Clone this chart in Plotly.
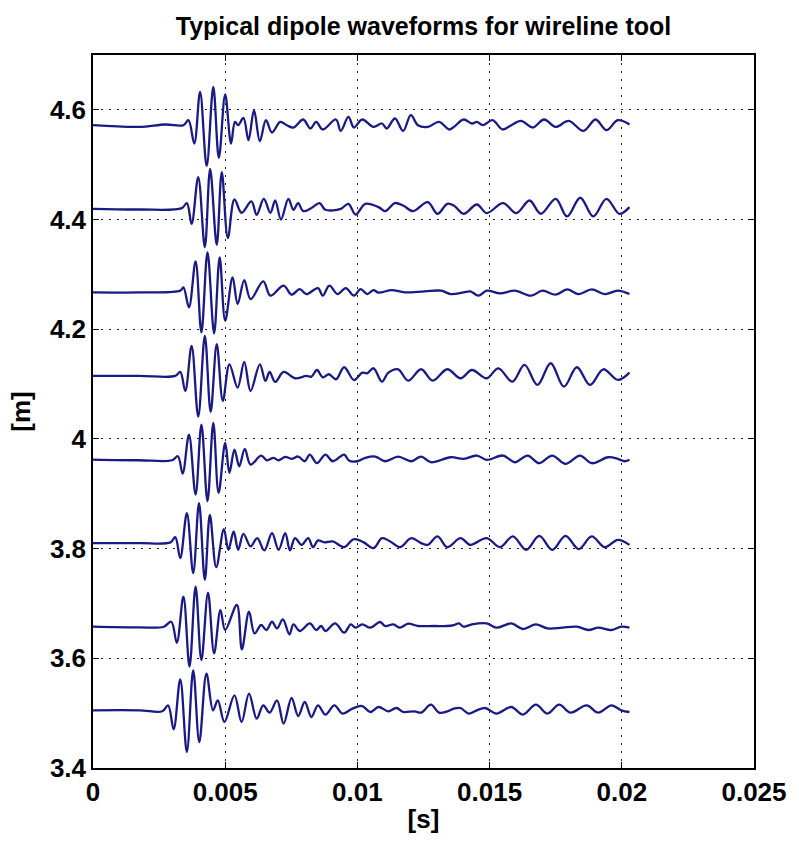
import plotly.graph_objects as go

# ---- data (time in ms, amplitude deviation in mm) ----
offsets_m = [4.572, 4.4196, 4.2672, 4.1148, 3.9624, 3.81, 3.6576, 3.5052]

t1 = [0, 1.75, 2.74, 3.42, 3.61, 3.83, 4.05, 4.30, 4.55, 4.76, 5.00, 5.22, 5.37, 5.49, 5.69, 5.88, 6.09, 6.31, 6.54, 6.77, 7.08, 7.33, 7.58, 7.95, 8.22, 8.44, 8.69, 9.19, 9.37, 9.66, 9.87, 10.18, 10.61, 10.93, 11.11, 11.42, 11.73, 12.02, 12.29, 12.66, 13.09, 13.47, 13.65, 14.02, 14.33, 14.52, 14.74, 15.11, 15.49, 15.82, 16.19, 16.63, 17.06, 17.50, 17.99, 18.55, 19.01, 19.42, 19.85, 20.29]
a1 = [0, -3.1, 1.3, 0, 9.1, -33.4, 60.7, -74.2, 69.8, -59.6, 56.0, -33.4, 6.0, 0, 13.3, -27.3, 27.3, -29.2, 9.1, -13.3, 6.0, 0, -4.2, 10.4, -6.0, 6.0, -7.8, 10.4, -10.4, 15.1, -4.2, 10.4, -3.1, 3.1, -6.0, 12.2, -10.4, 18.2, 0, -3.1, 6.0, -7.8, -3.1, 10.4, 3.1, 6.0, 0, 9.1, -7.8, 0, 7.8, -4.2, 10.4, -3.1, 7.8, -10.4, 10.4, -9.1, 9.1, 1.3]

t2 = [0, 1.75, 3.36, 3.55, 3.73, 3.98, 4.23, 4.43, 4.68, 4.87, 5.10, 5.35, 5.62, 5.99, 6.19, 6.46, 6.71, 6.89, 7.11, 7.39, 7.58, 7.76, 7.95, 8.26, 8.57, 8.79, 9.37, 9.66, 9.93, 10.30, 10.80, 11.05, 11.42, 11.73, 12.10, 12.66, 13.03, 13.40, 13.65, 14.02, 14.52, 14.89, 15.51, 16.01, 16.51, 16.94, 17.50, 17.93, 18.43, 18.92, 19.42, 19.91, 20.29]
a2 = [0, -1.3, 1.3, 10.4, -27.3, 57.8, -69.8, 72.9, -65.6, 66.9, -53.4, 17.0, -7.3, 13.3, -10.9, 18.2, -7.3, 15.1, -19.5, 18.2, -1.8, 10.4, -4.2, 1.3, 10.4, -1.8, 0, 9.1, -10.4, 9.1, 3.1, -4.2, 10.4, 6.0, -4.2, 12.2, -9.1, 9.1, 6.0, -9.1, 7.8, -7.8, 10.4, -7.8, 15.1, -9.1, 18.2, -14.0, 20.1, -14.0, 18.2, -9.1, 3.1]

t3 = [0, 1.75, 3.30, 3.42, 3.63, 3.88, 4.10, 4.33, 4.58, 4.79, 5.00, 5.28, 5.47, 5.72, 5.96, 6.44, 6.71, 7.21, 7.51, 7.82, 8.07, 8.51, 8.69, 8.94, 9.25, 9.56, 9.87, 10.12, 10.37, 10.61, 10.80, 11.30, 11.79, 12.54, 13.16, 13.53, 14.02, 14.27, 14.58, 14.89, 15.39, 15.95, 16.57, 17.00, 17.50, 17.93, 18.37, 18.86, 19.36, 19.85, 20.29]
a3 = [0, 0, 3.1, 9.1, -27.3, 56.5, -72.9, 72.9, -74.7, 63.8, -51.6, 27.3, -21.3, 22.4, -12.2, 20.1, -6.0, 12.2, -4.2, 6.0, -3.1, 7.8, -6.0, 12.2, -3.1, 7.8, -6.0, 6.0, -3.1, 4.2, -0.5, 4.2, 0, 1.8, 3.1, -3.1, 0, 1.8, -6.0, 3.1, -1.8, 3.1, -6.0, 3.1, -4.2, 5.5, -3.1, 5.5, -3.1, 3.1, -3.1]

t4 = [0, 1.75, 3.11, 3.30, 3.49, 3.73, 3.98, 4.23, 4.45, 4.68, 4.91, 5.16, 5.47, 5.72, 5.96, 6.31, 6.52, 6.68, 6.89, 7.21, 7.64, 8.07, 8.26, 8.47, 8.69, 8.92, 9.19, 9.50, 9.87, 10.18, 10.37, 10.61, 10.93, 11.17, 11.54, 11.92, 12.41, 12.85, 13.40, 13.90, 14.33, 14.89, 15.33, 15.86, 16.32, 16.81, 17.31, 17.81, 18.30, 18.80, 19.30, 19.85, 20.29]
a4 = [0, 0, 0, 7.3, -27.3, 54.7, -74.2, 72.9, -65.6, 57.8, -45.6, 21.3, -21.3, 25.5, -27.3, 21.3, -9.1, 7.3, -10.9, 7.3, -4.2, 0, -1.3, 10.9, -2.4, 3.1, -6.0, 15.9, -7.3, 6.0, 4.9, 14.0, -10.4, 6.0, 12.2, -8.6, 12.2, -8.6, 12.2, -4.2, 10.9, -4.2, 14.0, -10.4, 20.1, -16.4, 23.2, -19.5, 15.9, -16.4, 12.2, -7.3, 6.0]

t5 = [0, 1.75, 2.99, 3.21, 3.39, 3.63, 3.88, 4.10, 4.33, 4.55, 4.75, 5.00, 5.16, 5.35, 5.53, 5.74, 5.96, 6.36, 6.58, 6.83, 7.02, 7.27, 7.51, 7.76, 8.01, 8.20, 8.47, 8.79, 9.07, 9.50, 9.68, 10.00, 10.30, 10.68, 11.05, 11.54, 12.04, 12.41, 12.78, 13.53, 14.02, 14.52, 14.89, 15.51, 15.95, 16.44, 16.87, 17.37, 17.87, 18.42, 18.86, 19.48, 19.85, 20.10, 20.29]
a5 = [0, -1.3, -1.3, 6.0, -25.5, 45.6, -63.8, 63.8, -76.0, 66.9, -60.7, 30.4, -24.2, 18.2, -12.2, 19.5, -9.1, 7.3, -1.3, 3.1, -1.3, 4.9, 1.3, 5.5, -3.1, 9.1, -6.7, 9.1, -3.1, 9.1, -1.8, -3.1, 3.1, 5.5, -3.1, 5.5, -3.1, 5.5, -4.9, 4.2, 1.3, 7.3, -0.5, 7.3, -4.9, 7.3, -6.7, 7.3, -7.8, 7.3, -6.7, 4.2, 1.3, -3.1, -0.5]

t6 = [0, 1.75, 2.93, 3.11, 3.30, 3.55, 3.79, 4.01, 4.23, 4.42, 4.66, 4.95, 5.12, 5.32, 5.49, 5.69, 5.96, 6.21, 6.48, 6.77, 7.02, 7.27, 7.45, 7.64, 7.89, 8.14, 8.32, 8.51, 8.75, 9.07, 9.50, 9.87, 10.24, 10.61, 10.93, 11.24, 11.61, 12.04, 12.41, 12.66, 13.03, 13.40, 13.90, 14.27, 14.89, 15.39, 15.88, 16.38, 16.88, 17.37, 17.87, 18.37, 18.86, 19.36, 19.85, 20.29]
a6 = [0, 0, 1.3, 10.9, -27.3, 54.7, -54.7, 72.9, -66.9, 51.6, -43.8, 25.5, -12.2, 21.3, -12.2, 17.0, -6.0, 9.1, -13.3, 18.2, -12.2, 18.2, -13.3, 9.1, -3.1, 9.1, -7.3, 4.9, 1.3, 3.1, -7.3, 7.3, 1.3, -9.1, 9.1, 3.1, -7.3, 9.1, 0, -3.1, 12.2, -7.3, 9.1, -3.1, 9.1, -7.3, 12.2, -12.2, 13.3, -12.2, 13.3, -10.9, 12.2, -7.3, 6.0, -3.1]

t7 = [0, 1.75, 2.68, 2.96, 3.17, 3.42, 3.65, 3.88, 4.10, 4.35, 4.58, 4.82, 5.00, 5.44, 5.63, 5.90, 6.11, 6.36, 6.56, 6.77, 6.96, 7.18, 7.43, 7.58, 7.82, 8.20, 8.44, 8.63, 8.79, 9.16, 9.50, 9.75, 9.93, 10.18, 10.49, 10.86, 11.05, 11.36, 11.61, 11.92, 12.29, 12.91, 13.40, 13.65, 13.84, 14.02, 14.33, 14.89, 15.26, 15.82, 16.26, 16.75, 17.19, 17.75, 18.30, 18.74, 19.11, 19.61, 19.98, 20.29]
a7 = [0, -1.3, 0, 9.1, -29.2, 54.7, -72.9, 72.9, -60.7, 62.0, -48.7, 30.4, -6.0, 39.6, -41.4, 27.3, -12.2, 3.1, -6.0, 9.1, -3.1, 13.3, -14.0, 4.2, -7.8, 6.0, -6.0, 1.3, -7.8, 6.0, -10.9, 4.2, -1.8, 4.2, -1.8, 8.6, 1.3, 4.2, -1.8, 5.5, 1.3, 1.3, 1.3, 3.1, 6.0, 0, 4.2, 6.0, -1.8, 6.0, -4.2, 4.2, -3.1, -1.8, 0, -6.0, -1.8, -6.0, 0, -1.8]

t8 = [0, 1.75, 2.62, 2.84, 3.05, 3.30, 3.55, 3.79, 4.02, 4.29, 4.54, 4.72, 4.97, 5.35, 5.62, 5.90, 6.19, 6.44, 6.68, 6.96, 7.21, 7.51, 7.76, 8.01, 8.26, 8.51, 8.79, 9.13, 9.44, 9.81, 10.18, 10.49, 10.80, 11.17, 11.48, 11.73, 12.16, 12.41, 12.78, 13.09, 13.40, 13.65, 13.90, 14.21, 14.52, 14.83, 15.26, 15.82, 16.26, 16.75, 17.19, 17.63, 18.06, 18.67, 19.11, 19.61, 19.98, 20.29]
a8 = [0, 0, -1.8, 9.1, -34.6, 56.5, -76.0, 72.9, -57.8, 66.9, 0, 18.2, -21.3, 27.3, -21.3, 30.4, -15.1, 9.1, -4.2, 18.2, -24.2, 22.4, -10.4, 15.1, -12.2, 9.1, -7.8, 9.1, -6.0, 3.1, 7.8, -3.1, 6.0, -1.8, 4.2, -3.1, -1.8, -4.2, 10.4, -4.2, -1.8, 3.1, 4.2, -6.0, 0, 4.2, -6.0, 6.0, -7.8, 10.4, -6.0, 10.4, -4.2, 9.1, -4.2, 9.1, 0, -3.1]

x_tickvals = [0, 0.005, 0.01, 0.015, 0.02, 0.025]
x_ticktext = ["0", "0.005", "0.01", "0.015", "0.02", "0.025"]
y_tickvals = [3.4, 3.6, 3.8, 4.0, 4.2, 4.4, 4.6]
y_ticktext = ["3.4", "3.6", "3.8", "4", "4.2", "4.4", "4.6"]

times = [t1, t2, t3, t4, t5, t6, t7, t8]
amps = [a1, a2, a3, a4, a5, a6, a7, a8]

LINE = "#1a1a85"
FONT = "Liberation Sans, Arial, sans-serif"

fig = go.Figure()
for t, a, off in zip(times, amps, offsets_m):
    n = min(len(t), len(a))
    fig.add_trace(go.Scatter(
        x=[v / 1000.0 for v in t[:n]],
        y=[off + v / 1000.0 for v in a[:n]],
        mode="lines",
        line=dict(color=LINE, width=2.3, shape="spline", smoothing=1),
        showlegend=False, hoverinfo="skip"))

axis_common = dict(
    showgrid=True, gridcolor="#222222", gridwidth=1.2, griddash="2px,6px",
    showline=True, linecolor="black", linewidth=1.5, mirror="allticks",
    ticks="inside", ticklen=6, tickcolor="black", zeroline=False,
    tickfont=dict(family=FONT, size=26, color="black", weight="bold"),
)

fig.update_layout(
    width=799, height=844, autosize=False,
    margin=dict(l=93, r=34, t=55, b=76),
    paper_bgcolor="white", plot_bgcolor="white",
    title=dict(text="Typical dipole waveforms for wireline tool",
               x=0.5, xref="paper", y=1 - 26 / 844, yref="container",
               xanchor="center", yanchor="middle",
               font=dict(family=FONT, size=25, color="black", weight="bold")),
    xaxis=dict(range=[0, 0.025], tickvals=x_tickvals, ticktext=x_ticktext,
               title=dict(text="[s]", standoff=4,
                          font=dict(family=FONT, size=26, color="black", weight="bold")),
               **axis_common),
    yaxis=dict(range=[3.4, 4.7], tickvals=y_tickvals, ticktext=y_ticktext,
               title=dict(text="[m]", standoff=12,
                          font=dict(family=FONT, size=26, color="black", weight="bold")),
               **axis_common),
)

fig.write_html("out.html")
